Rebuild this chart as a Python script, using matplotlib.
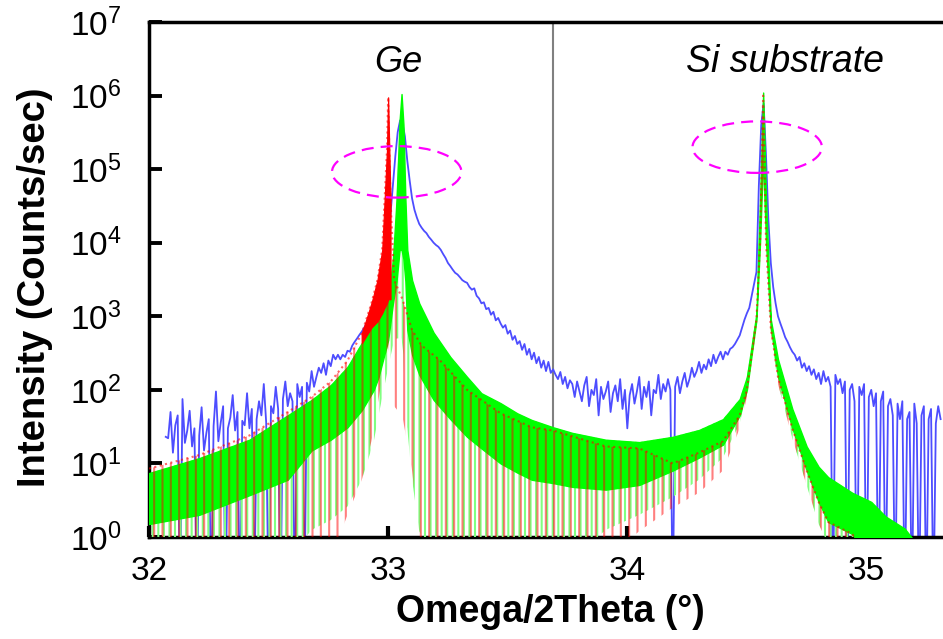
import numpy as np
import matplotlib
matplotlib.use("Agg")
import matplotlib.pyplot as plt
from matplotlib.patches import Ellipse
from matplotlib.ticker import LogLocator, NullLocator, FixedLocator

plt.rcParams['font.family'] = ['Liberation Sans', 'DejaVu Sans']
plt.rcParams['mathtext.fontset'] = 'custom'
plt.rcParams['mathtext.rm'] = 'Liberation Sans'
plt.rcParams['hatch.linewidth'] = 1.5

# ---- measured omega/2theta scan (counts/sec), 0.01 deg steps from 32.07 deg ----
blue_start = 32.07
blue_step = 0.01
blue_counts = [
    23, 22, 50,
    14, 33, 45, 0.1, 75, 19, 28, 52, 17, 30,
    0.1, 24, 58, 15, 26, 40, 0.1, 32, 95, 20,
    36, 60, 0.1, 30, 42, 85, 28, 50, 0.1, 38,
    33, 90, 30, 55, 0.1, 40, 70, 45, 120, 36,
    0.1, 60, 48, 110, 55, 0.1, 75, 130, 60, 90,
    70, 0.1, 120, 80, 110, 0.1, 125, 95, 180, 110,
    150, 200, 170, 230, 160, 250, 210, 300, 260, 300,
    260, 300, 280, 340, 330, 400, 450, 500, 560, 620,
    700, 800, 950, 1100, 1300, 1600, 2000, 2800, 4500, 8000,
    14000, 25000, 60000, 150000, 320000, 460000, 420000, 280000, 130000, 70000,
    40000, 28000, 22000, 18000, 16000, 14500, 13500, 12000, 11000, 10000,
    9300, 8800, 8000, 7000, 6200, 5300, 4800, 4300, 3900, 3700,
    3400, 3100, 2950, 2850, 2500, 2300, 2400, 1900, 1750, 1500,
    1550, 1250, 1300, 1050, 1150, 880, 950, 800, 700, 760,
    580, 640, 480, 540, 420, 460, 350, 420, 300, 360,
    260, 320, 230, 280, 200, 250, 180, 240, 170, 190,
    160, 140, 175, 120, 150, 105, 135, 120, 80, 130,
    95, 70, 115, 150, 60, 100, 85, 140, 45, 110,
    75, 95, 130, 50, 90, 115, 70, 140, 55, 100,
    30, 85, 120, 65, 95, 150, 55, 110, 80, 130,
    45, 100, 90, 160, 75, 120, 95, 140, 100, 0.1,
    110, 150, 90, 130, 170, 110, 140, 200, 150, 180,
    240, 170, 220, 190, 260, 210, 300, 230, 280, 330,
    260, 330, 300, 360, 380, 420, 480, 550, 700, 900,
    1100, 1300, 1900, 2800, 4000, 60000, 400000, 780000, 150000, 20000,
    5300, 2500, 1500, 1000, 800, 650, 520, 450, 380, 330,
    300, 250, 280, 200, 230, 180, 210, 160, 190, 140,
    170, 120, 180, 130, 150, 110, 0.1, 160, 120, 140,
    90, 130, 0.1, 100, 120, 70, 0.1, 110, 85, 120,
    0.1, 80, 100, 60, 90, 0.1, 70, 95, 0.1, 60,
    75, 45, 0.1, 65, 40, 70, 0.1, 40, 50, 0.1,
    65, 35, 0.1, 45, 60, 0.1, 40, 55, 0.1, 35,
    60, 40,
]

# ---- simulation 2: fringe envelope (upper edge, dense-core lower edge, fringe minima) ----
green_x = [32.00, 32.21, 32.42, 32.58, 32.68, 32.76, 32.83, 32.89, 32.94, 32.96,
           33.00, 33.02, 33.035, 33.048, 33.056, 33.064, 33.072, 33.08, 33.10, 33.13,
           33.19, 33.26, 33.33, 33.39, 33.47, 33.54, 33.60, 33.69, 33.77, 33.91,
           34.05, 34.19, 34.30, 34.40, 34.47, 34.50, 34.52, 34.54, 34.555, 34.568,
           34.58, 34.60, 34.63, 34.69, 34.75, 34.80, 34.84, 34.94, 35.02, 35.08,
           35.16, 35.21, 35.32]
green_top = [7.4, 11.8, 21, 45, 73, 116, 205, 435, 760, 900,
             1700, 6000, 38000, 470000, 1050000, 400000, 40000, 8000, 3100, 1500,
             600, 280, 150, 90, 66, 48, 39, 31, 26, 21,
             19.5, 23, 28.5, 40, 75, 150, 400, 1100, 38000, 1100000,
             38000, 900, 260, 55, 17, 9, 6.5, 4, 3, 1.9,
             1.3, 0.8, 0.5]
green_mid = [1.5, 2.0, 3.7, 6, 15, 21, 31, 53, 100, 150,
             475, 1500, 3000, 8000, 8000, 6000, 3000, 650, 300, 160,
             73, 40, 23, 16, 10, 7.5, 6, 5.4, 4.8, 4.4,
             5.1, 8, 12, 18, 45, 100, 300, 900, 10000, 150000,
             10000, 700, 150, 30, 8, 3, 1.6, 1.1, 0.5, 0.5,
             0.5, 0.5, 0.5]
green_floor = [0.5, 0.5, 0.5, 0.5, 1.25, 1.7, 2.6, 6, 20, 45,
               200, 400, 500, 500, 500, 300, 39, 30, 6, 1.2,
               0.5, 0.5, 0.5, 0.5, 0.5, 0.5, 0.5, 0.5, 0.5, 1.25,
               2, 3.5, 6, 12, 35, 90, 280, 850, 8000, 100000,
               8000, 600, 120, 22, 5, 1.5, 0.8, 0.5, 0.5, 0.5,
               0.5, 0.5, 0.5]

# ---- simulation 1: fringe envelope ----
red_x = [32.00, 32.21, 32.42, 32.58, 32.68, 32.76, 32.83, 32.89, 32.93, 32.955,
         32.975, 32.985, 32.995, 33.00, 33.005, 33.01, 33.025, 33.06, 33.10, 33.14,
         33.215, 33.33, 33.47, 33.60, 33.69, 33.91, 34.05, 34.19, 34.30, 34.40,
         34.47, 34.50, 34.52, 34.54, 34.555, 34.568, 34.58, 34.60, 34.63, 34.69,
         34.75, 34.80, 34.84, 34.94, 35.02, 35.32]
red_top = [8.5, 13, 24, 50, 80, 130, 250, 590, 1500, 3100,
           8000, 38000, 180000, 950000, 180000, 38000, 3100, 1700, 650, 400,
           255, 100, 48, 31, 28, 17, 16, 10, 14, 20,
           45, 100, 300, 900, 10000, 1000000, 10000, 700, 150, 30,
           8, 3, 1.6, 1.1, 0.5, 0.5]
red_mid = [8.5, 13, 24, 50, 80, 130, 250, 430, 700, 850,
           1100, 1300, 1500, 1700, 1700, 1700, 3100, 1700, 650, 400,
           255, 100, 48, 31, 28, 17, 16, 10, 14, 20,
           45, 100, 300, 900, 10000, 1000000, 10000, 700, 150, 30,
           8, 3, 1.6, 1.1, 0.5, 0.5]
red_floor = [0.5, 0.5, 0.5, 0.5, 0.5, 0.5, 2, 6, 20, 60,
             150, 250, 350, 400, 300, 200, 60, 43, 8, 0.5,
             0.5, 0.5, 0.5, 0.5, 0.5, 0.5, 1.2, 2.5, 4, 8,
             30, 80, 250, 750, 8000, 100000, 8000, 600, 120, 22,
             5, 1.5, 0.8, 0.5, 0.5, 0.5]

x_ticks = [32, 33, 34, 35]
divider_x = 33.69

blue_x = blue_start + blue_step * np.arange(len(blue_counts))
red_core = np.array(red_mid) < np.array(red_top)

fig = plt.figure(figsize=(9.43, 6.39), dpi=100)
ax = fig.add_axes([149 / 943, 102 / 639, 794 / 943, 515 / 639])

ax.axvline(divider_x, color='#808080', lw=1.5, zorder=1)
ax.plot(blue_x, blue_counts, color='#4d4dff', lw=1.3, zorder=2)

ax.fill_between(green_x, green_floor, green_top, facecolor='none',
                edgecolor='#80ff80', hatch='|||', lw=0, zorder=3)
ax.fill_between(green_x, green_mid, green_top, facecolor='#00ff00',
                edgecolor='#00ff00', lw=1.0, zorder=4)
ax.fill_between(red_x, red_floor, red_top, facecolor='none',
                edgecolor='red', hatch='||', lw=0, alpha=0.5, zorder=5)
ax.fill_between(red_x, red_mid, red_top, where=red_core, facecolor='red',
                edgecolor='red', lw=0.8, zorder=6)
ax.plot(red_x, red_top, ls=':', color='red', lw=1.5, alpha=0.6, zorder=6)

ax.set_yscale('log')
ax.set_xlim(32, 35.32)
ax.set_ylim(1, 1e7)
ax.yaxis.set_major_locator(LogLocator(base=10, numticks=10))
ax.yaxis.set_minor_locator(NullLocator())
ax.xaxis.set_major_locator(FixedLocator(x_ticks))

for side in ('left', 'bottom', 'top'):
    ax.spines[side].set_linewidth(2.5)
ax.spines['right'].set_visible(False)
ax.tick_params(axis='y', direction='in', length=9, width=2.8, labelsize=24, pad=20)
ax.tick_params(axis='x', direction='in', length=8, width=3, labelsize=24, pad=14)

ax.set_xlabel('Omega/2Theta (°)', fontsize=27, fontweight='bold', va='center')
ax.xaxis.set_label_coords(0.505, -0.146)
ax.set_ylabel('Intensity (Counts/sec)', fontsize=27.5, fontweight='bold', va='center')
ax.yaxis.set_label_coords(-0.1436, 0.485)

ax.text(0.3136, 0.922, 'Ge', transform=ax.transAxes, fontsize=26,
        style='italic', ha='center', va='center')
ax.text(0.801, 0.922, 'Si substrate', transform=ax.transAxes, fontsize=27,
        style='italic', ha='center', va='center')

for cx, cy in [(0.312, 0.709), (0.766, 0.757)]:
    ax.add_patch(Ellipse((cx, cy), 0.163, 0.100, transform=ax.transAxes,
                         fill=False, edgecolor='#ff00ff', lw=1.6,
                         ls=(0, (5.4, 3.2)), zorder=8))

fig.savefig('out.png', dpi=100)
